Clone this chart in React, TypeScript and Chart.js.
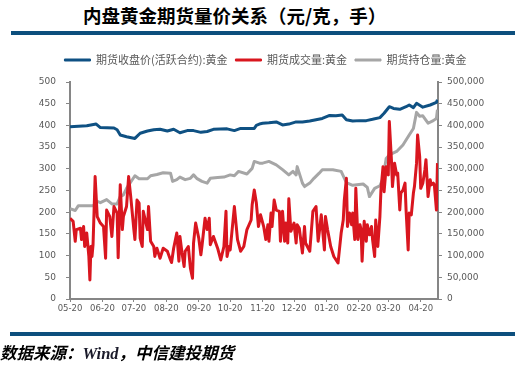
import React, { useEffect, useRef } from "react";
import { Chart, registerables } from "chart.js";

Chart.register(...registerables);

const titleText = "内盘黄金期货量价关系（元/克，手）";
const sourceLead = "数据来源：";
const sourceWind = "Wind";
const sourceTail = "，中信建投期货";

const seriesNames = ["期货收盘价(活跃合约):黄金", "期货成交量:黄金", "期货持仓量:黄金"];
const seriesColors = ["#0f5183", "#d9161f", "#a6a6a6"];

const monthLabels = ["05-20", "06-20", "07-20", "08-20", "09-20", "10-20", "11-20", "12-20", "01-20", "02-20", "03-20", "04-20"];
// calendar-day offsets of each month label from the first one
const monthTickDays = [0, 31, 61, 92, 123, 153, 184, 214, 245, 276, 304, 335];
const lastDay = 351.5;

const leftTicks = [0, 50, 100, 150, 200, 250, 300, 350, 400, 450, 500];
const rightTicks = [0, 50000, 100000, 150000, 200000, 250000, 300000, 350000, 400000, 450000, 500000];

// 期货收盘价(活跃合约):黄金 (元/克)
const priceDays = [0, 16, 25, 29, 42, 45, 48, 54, 62, 67,
  74, 80, 86, 93, 99, 105, 112, 118, 125, 131,
  137, 150, 157, 163, 176, 178, 182, 184, 190, 197,
  203, 209, 216, 222, 229, 235, 241, 248, 254, 260,
  264, 270, 277, 283, 289, 296, 300, 305, 309, 315,
  321, 324, 328, 331, 337, 344, 350, 351];
const priceValues = [397, 399, 403, 395, 394, 390, 378, 374, 370, 382,
  387, 390, 391, 387, 391, 383, 388, 388, 384, 386,
  391, 392, 388, 393, 393, 400, 404, 405, 406, 408,
  401, 403, 408, 408, 410, 413, 416, 423, 422, 424,
  413, 410, 411, 411, 414, 418, 428, 443, 439, 437,
  443, 447, 441, 451, 442, 447, 453, 459];

// 期货成交量:黄金 (手)
const volumeDays = [0, 3, 5, 6, 10, 11, 13, 14, 16, 18,
  19, 20, 21, 22, 24, 26, 29, 32, 34, 35,
  38, 40, 42, 45, 46, 48, 50, 51, 54, 56,
  58, 61, 62, 64, 66, 67, 69, 70, 74, 75,
  77, 80, 81, 83, 86, 89, 93, 96, 97, 99,
  102, 104, 105, 107, 109, 110, 113, 115, 117, 118,
  120, 123, 125, 126, 129, 131, 133, 134, 137, 141,
  144, 147, 149, 150, 152, 153, 157, 160, 163, 166,
  169, 173, 174, 176, 178, 180, 182, 185, 187, 189,
  190, 192, 193, 195, 197, 200, 201, 203, 205, 206,
  208, 209, 211, 214, 216, 217, 219, 222, 224, 225,
  229, 232, 235, 237, 238, 240, 243, 244, 246, 249,
  252, 256, 259, 261, 262, 264, 265, 267, 269, 270,
  272, 273, 275, 277, 278, 279, 280, 281, 283, 284,
  286, 288, 289, 291, 292, 294, 296, 297, 299, 300,
  302, 304, 305, 307, 308, 310, 312, 313, 315, 316,
  318, 320, 321, 323, 324, 326, 328, 329, 331, 332,
  334, 335, 337, 339, 340, 342, 344, 345, 347, 348,
  350, 351];
const volumeValues = [186000, 179000, 133000, 160000, 163000, 137000, 167000, 121000, 152000, 98000,
  44000, 121000, 98000, 125000, 282000, 190000, 175000, 167000, 94000, 205000,
  190000, 144000, 213000, 198000, 95000, 263000, 160000, 190000, 213000, 282000,
  236000, 160000, 137000, 228000, 221000, 140000, 121000, 202000, 160000, 213000,
  133000, 121000, 98000, 117000, 94000, 117000, 110000, 90000, 84000, 117000,
  152000, 87000, 144000, 106000, 75000, 110000, 121000, 71000, 48000, 129000,
  175000, 140000, 102000, 121000, 186000, 160000, 186000, 125000, 144000, 117000,
  90000, 121000, 202000, 98000, 121000, 113000, 213000, 137000, 110000, 121000,
  160000, 182000, 217000, 251000, 221000, 167000, 194000, 167000, 137000, 171000,
  133000, 198000, 167000, 228000, 205000, 202000, 133000, 202000, 133000, 175000,
  129000, 231000, 156000, 175000, 129000, 171000, 163000, 106000, 167000, 129000,
  110000, 202000, 213000, 133000, 152000, 194000, 113000, 190000, 160000, 121000,
  98000, 83000, 152000, 182000, 228000, 278000, 167000, 198000, 171000, 198000,
  137000, 255000, 137000, 171000, 160000, 87000, 137000, 179000, 133000, 171000,
  148000, 167000, 137000, 98000, 182000, 121000, 190000, 251000, 305000, 247000,
  305000, 286000, 409000, 321000, 259000, 313000, 286000, 290000, 205000, 244000,
  251000, 267000, 205000, 113000, 198000, 194000, 244000, 259000, 313000, 378000,
  328000, 255000, 267000, 298000, 321000, 236000, 275000, 263000, 267000, 263000,
  205000, 313000];

// 期货持仓量:黄金 (手)
const openDays = [0, 5, 8, 16, 22, 26, 29, 35, 40, 45,
  48, 51, 54, 59, 62, 66, 74, 77, 83, 89,
  96, 98, 102, 105, 110, 115, 118, 121, 126, 131,
  134, 141, 147, 153, 157, 161, 169, 174, 176, 181,
  184, 190, 197, 203, 209, 213, 216, 217, 222, 224,
  229, 233, 238, 241, 251, 259, 264, 270, 280, 284,
  286, 291, 296, 299, 302, 305, 312, 318, 324, 328,
  331, 334, 337, 342, 347, 350, 351];
const openValues = [208000, 204000, 215000, 215000, 215000, 225000, 222000, 229000, 219000, 219000,
  236000, 240000, 255000, 273000, 284000, 277000, 277000, 284000, 287000, 291000,
  290000, 271000, 275000, 281000, 275000, 278000, 286000, 278000, 271000, 267000,
  278000, 280000, 281000, 286000, 284000, 294000, 288000, 301000, 317000, 313000,
  313000, 317000, 309000, 298000, 286000, 294000, 286000, 305000, 267000, 259000,
  267000, 278000, 290000, 298000, 298000, 294000, 268000, 262000, 265000, 257000,
  236000, 255000, 261000, 278000, 324000, 332000, 340000, 355000, 378000, 393000,
  430000, 421000, 422000, 405000, 411000, 416000, 436000];

const toPoints = (xs: number[], ys: number[]) => {
  const n = Math.min(xs.length, ys.length);
  const out: { x: number; y: number }[] = [];
  for (let i = 0; i < n; i++) out.push({ x: xs[i], y: ys[i] });
  return out;
};

const axisGray = "#868686";
const labelGray = "#595959";
const barBlue = "#0d4f7d";
const cjk = '"Noto Sans CJK SC", "Noto Sans", sans-serif';

export default function App() {
  const canvasRef = useRef<HTMLCanvasElement | null>(null);

  useEffect(() => {
    const canvas = canvasRef.current;
    if (!canvas) return;

    const legendSpacer = {
      id: "legendSpacer",
      beforeInit(chart: any) {
        const legend = chart.legend;
        if (!legend) return;
        const origFit = legend.fit;
        legend.fit = function () {
          origFit.call(this);
          this.height += 6.5;
        };
      },
    };

    const lineStyle = { borderWidth: 3, pointRadius: 0, tension: 0, borderJoinStyle: "round" as const };

    const chart = new Chart(canvas, {
      type: "line",
      data: {
        datasets: [
          {
            label: seriesNames[0],
            data: toPoints(priceDays, priceValues),
            borderColor: seriesColors[0],
            backgroundColor: seriesColors[0],
            ...lineStyle,
            yAxisID: "y",
          },
          {
            label: seriesNames[1],
            data: toPoints(volumeDays, volumeValues),
            borderColor: seriesColors[1],
            backgroundColor: seriesColors[1],
            ...lineStyle,
            yAxisID: "y1",
          },
          {
            label: seriesNames[2],
            data: toPoints(openDays, openValues),
            borderColor: seriesColors[2],
            backgroundColor: seriesColors[2],
            ...lineStyle,
            yAxisID: "y1",
          },
        ],
      },
      options: {
        animation: false,
        responsive: false,
        devicePixelRatio: 1,
        layout: { padding: { top: 46.5, left: 16, right: 0, bottom: 56 } },
        plugins: {
          tooltip: { enabled: false },
          legend: {
            display: true,
            position: "top",
            labels: {
              boxWidth: 26,
              boxHeight: 2,
              padding: 8,
              color: labelGray,
              font: { family: cjk, size: 11 },
              generateLabels: (c: any) =>
                (Chart.defaults.plugins.legend.labels as any).generateLabels(c).map((l: any) => ({ ...l, lineWidth: 1 })),
            },
          },
        },
        scales: {
          x: {
            type: "linear",
            min: 0,
            max: lastDay,
            afterBuildTicks: (scale: any) => {
              scale.ticks = monthTickDays.map((v) => ({ value: v }));
            },
            afterFit: (scale: any) => {
              scale.height = 20;
            },
            ticks: {
              autoSkip: false,
              maxRotation: 0,
              minRotation: 0,
              padding: 2,
              color: labelGray,
              font: { family: '"DejaVu Sans", sans-serif', size: 8.5 },
              callback: (value: any) => {
                const i = monthTickDays.indexOf(Number(value));
                return i >= 0 ? monthLabels[i] : "";
              },
            },
            grid: { drawOnChartArea: false, drawTicks: true, tickLength: 3, color: axisGray, lineWidth: 1 },
            border: { display: true, color: axisGray, width: 2 },
          },
          y: {
            type: "linear",
            position: "left",
            min: 0,
            max: 500,
            afterBuildTicks: (scale: any) => {
              scale.ticks = leftTicks.map((v) => ({ value: v }));
            },
            afterFit: (scale: any) => {
              scale.width = 54;
            },
            ticks: {
              padding: 10,
              color: labelGray,
              font: { family: '"DejaVu Sans", sans-serif', size: 9 },
            },
            grid: { drawOnChartArea: false, drawTicks: true, tickLength: 4, color: axisGray, lineWidth: 1 },
            border: { display: true, color: axisGray, width: 2 },
          },
          y1: {
            type: "linear",
            position: "right",
            min: 0,
            max: 500000,
            afterBuildTicks: (scale: any) => {
              scale.ticks = rightTicks.map((v) => ({ value: v }));
            },
            afterFit: (scale: any) => {
              scale.width = 77;
            },
            ticks: {
              padding: 5,
              color: labelGray,
              font: { family: '"DejaVu Sans", sans-serif', size: 9 },
              callback: (value: any) => Number(value).toLocaleString("en-US"),
            },
            grid: { drawOnChartArea: false, drawTicks: true, tickLength: 4, color: axisGray, lineWidth: 1 },
            border: { display: true, color: axisGray, width: 2 },
          },
        },
      } as any,
      plugins: [legendSpacer],
    });

    return () => chart.destroy();
  }, []);

  return (
    <div style={{ position: "absolute", left: 0, top: 0, width: 515, height: 375, background: "#ffffff", overflow: "hidden" }}>
      <div
        style={{
          position: "absolute",
          left: 83,
          top: 3,
          fontFamily: cjk,
          fontWeight: 700,
          fontSize: 18.5,
          lineHeight: "24px",
          color: "#000000",
          whiteSpace: "nowrap",
        }}
      >
        {titleText}
      </div>
      <div style={{ position: "absolute", left: 11, top: 31, width: 504, height: 4, background: barBlue }} />
      <canvas
        ref={canvasRef}
        width={515}
        height={375}
        style={{ position: "absolute", left: 0, top: 0, width: 515, height: 375, display: "block" }}
      />
      <div style={{ position: "absolute", left: 10, top: 332, width: 505, height: 4, background: barBlue }} />
      <div
        style={{
          position: "absolute",
          left: 0,
          top: 340,
          fontFamily: cjk,
          fontWeight: 700,
          fontStyle: "italic",
          fontSize: 16.5,
          lineHeight: "24px",
          color: "#000000",
          whiteSpace: "nowrap",
        }}
      >
        {sourceLead}
        <span style={{ fontFamily: '"Liberation Serif", serif', color: "#1a1a2a" }}>{sourceWind}</span>
        {sourceTail}
      </div>
    </div>
  );
}
